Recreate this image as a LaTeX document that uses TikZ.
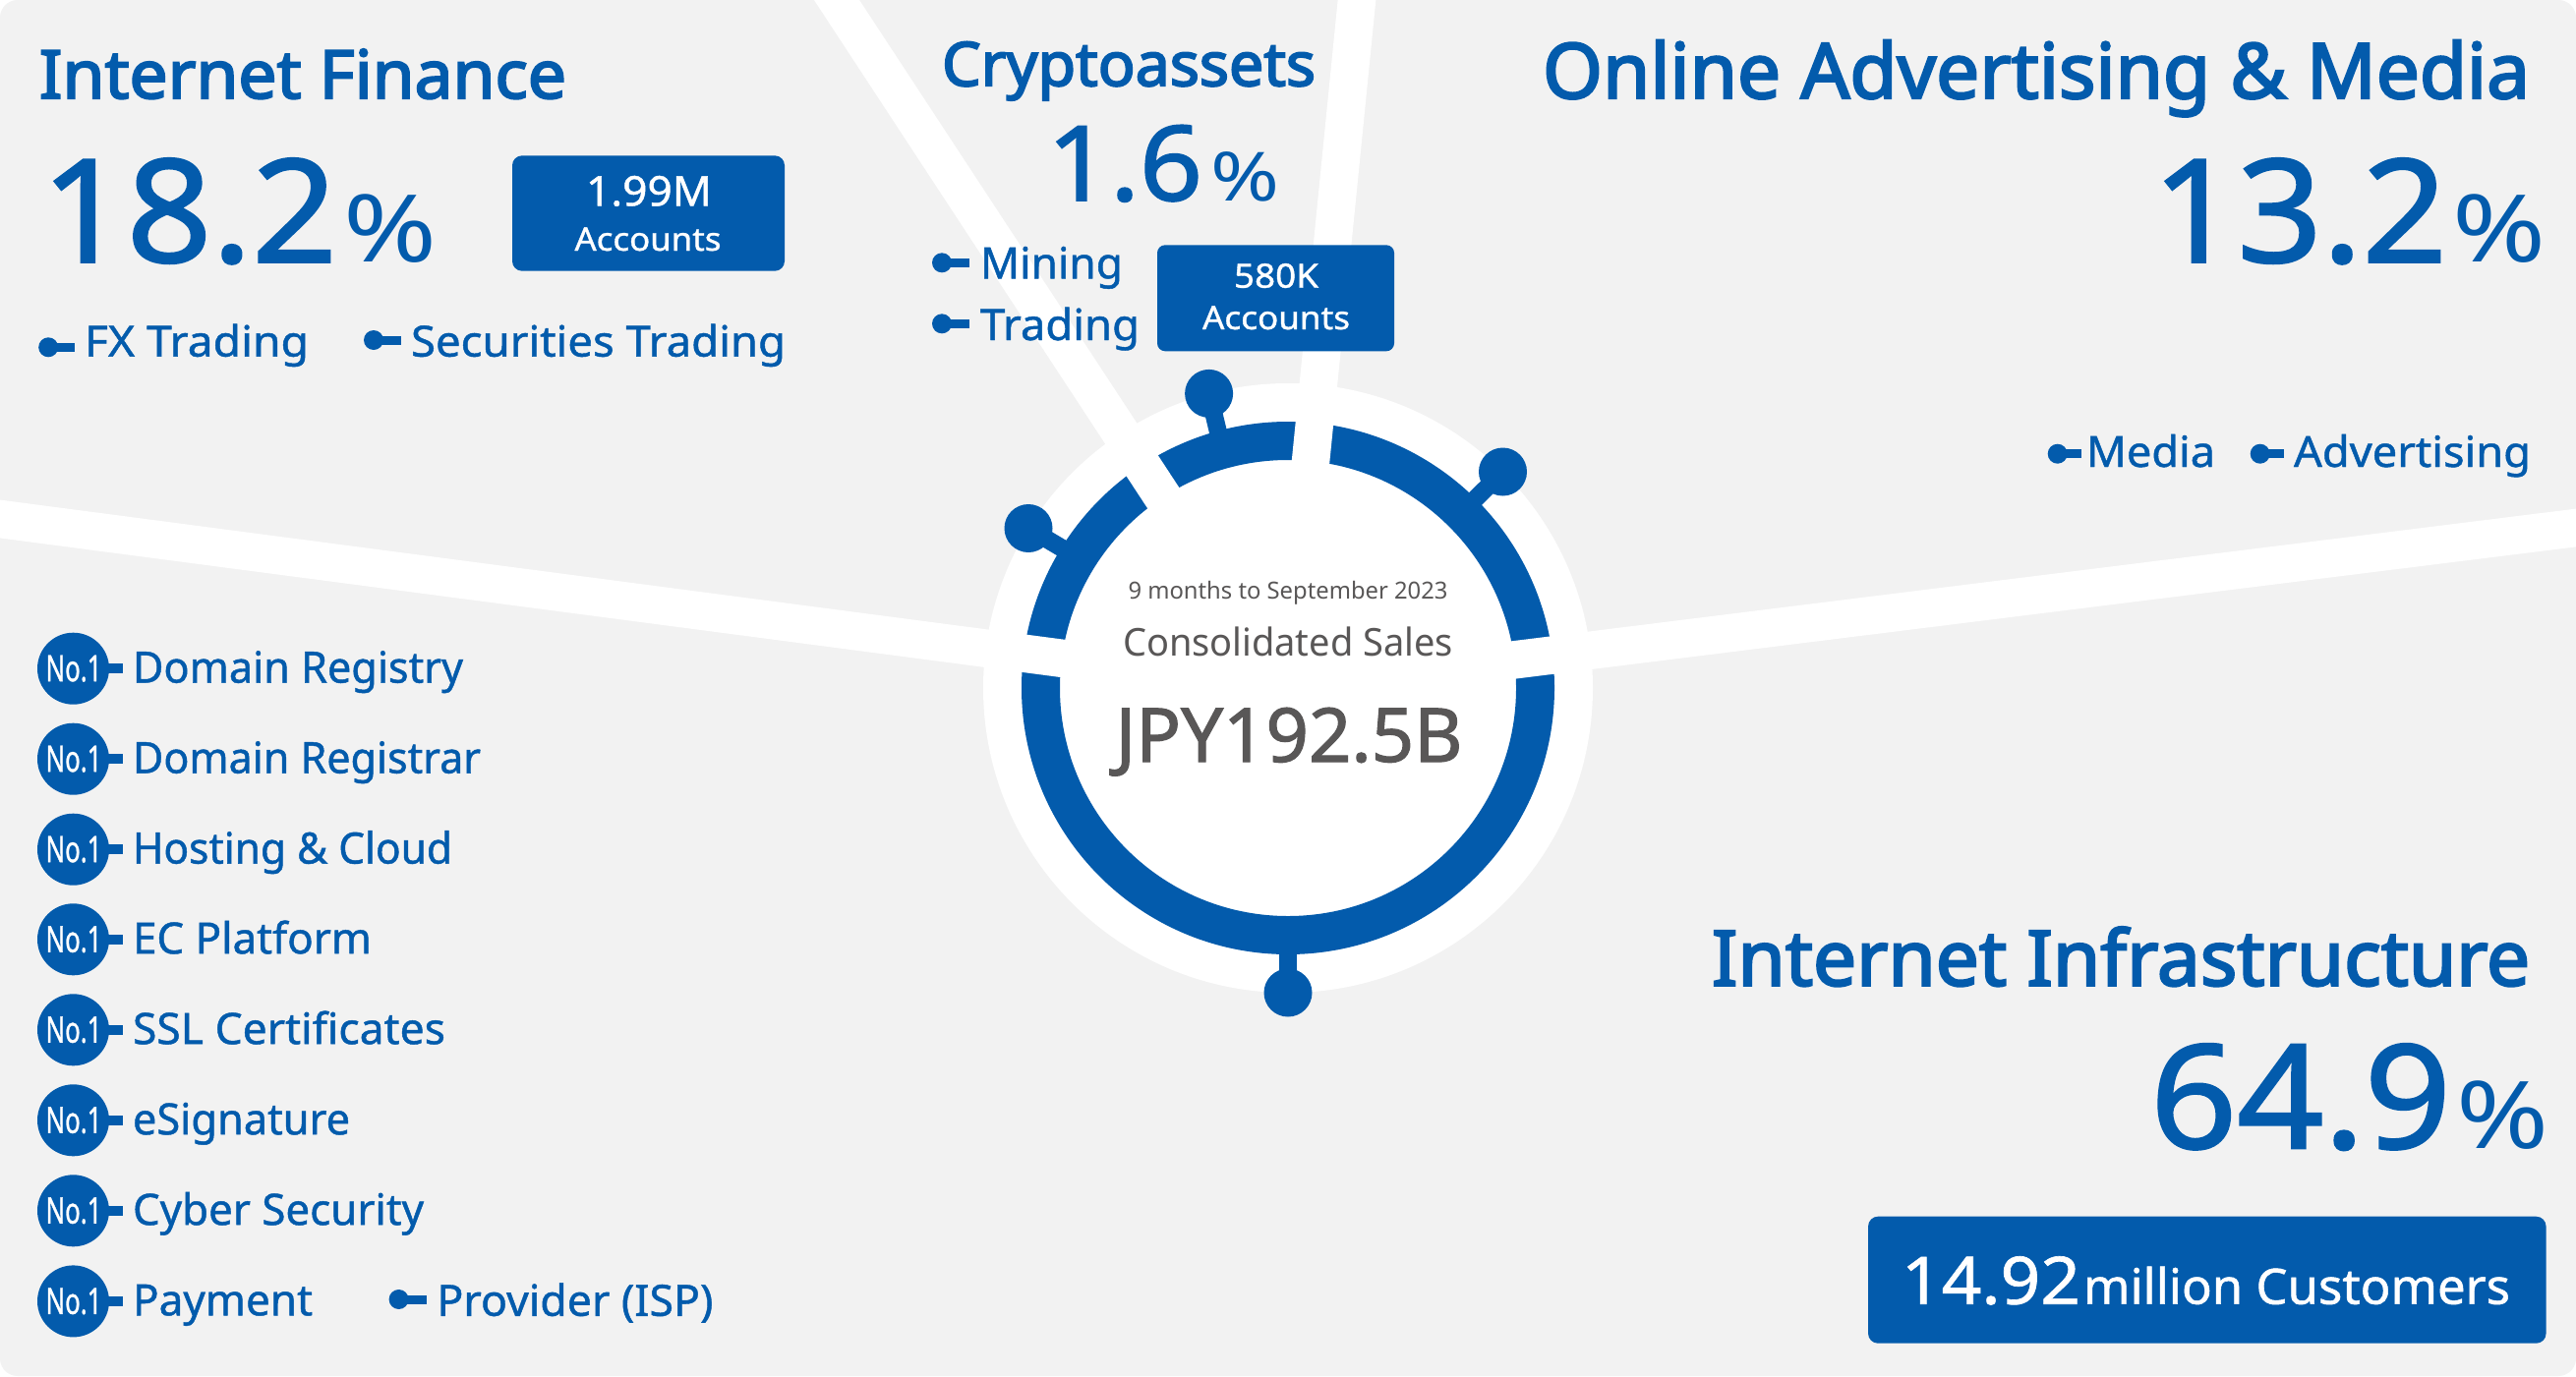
\documentclass[tikz,border=0pt]{standalone}
\usepackage{fontspec}
\usepackage{graphicx}
\setmainfont[FakeBold=1]{Noto Sans}
\newfontfamily\medf[FakeBold=3]{Noto Sans}
\newfontfamily\digf[FakeBold=1.5]{Noto Sans}
\newfontfamily\regf{Noto Sans}
\definecolor{gmoblue}{HTML}{035BAC}
\definecolor{panelgrey}{HTML}{F2F2F2}
\definecolor{inkgrey}{HTML}{595757}
% text helper: size, target width, text
\newcommand{\fitT}[3]{\fontsize{#1pt}{#1pt}\selectfont\resizebox{#2pt}{\height}{#3}}
\tikzset{
  tx/.style={inner sep=0pt,outer sep=0pt,text=gmoblue,anchor=base west},
  txr/.style={tx,anchor=base east},
  wtx/.style={tx,text=white,anchor=base},
  gtx/.style={tx,text=inkgrey,anchor=base},
  band/.style={draw=white,line width=38.5pt,shorten <=-60pt},
  knobdot/.style={circle,fill=gmoblue,inner sep=0pt,outer sep=0pt,minimum size=49pt},
  stemline/.style={draw=gmoblue,line width=18pt},
  dot/.style={circle,fill=gmoblue,inner sep=0pt,outer sep=0pt,minimum size=20pt},
  tick/.style={draw=gmoblue,line width=9pt},
  badge/.style={circle,fill=gmoblue,inner sep=0pt,outer sep=0pt,minimum size=73pt},
  bluebox/.style={fill=gmoblue,rounded corners=10pt,inner sep=0pt,outer sep=0pt}
}
\begin{document}
\begin{tikzpicture}[x=1pt,y=-1pt]
\useasboundingbox (0,0) rectangle (2620,1400);
\fill[white] (0,0) rectangle (2620,1400);
\fill[panelgrey,rounded corners=18pt] (0,0) rectangle (2620,1400);
% ring base
\fill[white] (1310,700) circle [radius=310pt];
\draw[gmoblue,line width=39pt] (1310,700) circle [radius=251.5pt];
% spokes
\coordinate (hub) at (1310,700);
\coordinate (sl) at (0,528);
\coordinate (sr) at (2620,537);
\coordinate (stl) at (851,0);
\coordinate (str) at (1380,0);
\draw[band] (sl) -- (hub);
\draw[band] (sr) -- (hub);
\draw[band] (stl) -- (hub);
\draw[band] (str) -- (hub);
% knobs
\node[knobdot] (ka) at (1046,537.5) {};
\coordinate (kae) at (1084,560);
\draw[stemline] (ka.center) -- (kae);
\node[knobdot] (kb) at (1229.6,400.4) {};
\coordinate (kbe) at (1240,444);
\draw[stemline] (kb.center) -- (kbe);
\node[knobdot] (kc) at (1528.5,480) {};
\coordinate (kce) at (1498,510);
\draw[stemline] (kc.center) -- (kce);
\node[knobdot] (kd) at (1310,1010) {};
\coordinate (kde) at (1310,965);
\draw[stemline] (kd.center) -- (kde);
% centre text
\node[gtx] (period) at (1310,609.8) {\regf\fitT{24}{325}{9 months to September 2023}};
\node[gtx] (sales) at (1310,667) {\regf\fitT{39}{336}{Consolidated Sales}};
\node[gtx] (total) at (1311,775) {\digf\fitT{76}{353}{JPY192.5B}};
% Internet Finance
\node[tx] (ifT) at (40,100) {\medf\fitT{68}{536}{Internet Finance}};
\node[tx] (ifN) at (42,266.7) {\digf\fitT{146}{301}{18.2}};
\node[tx] (ifP) at (349,266.7) {\regf\fitT{95}{95}{\%}};
\node[bluebox,minimum width=277pt,minimum height=117.4pt] (ifB) at (659.5,217) {};
\node[wtx] (ifB1) at (660,209.3) {\fitT{42}{128}{1.99M}};
\node[wtx] (ifB2) at (659,255) {\fitT{33}{149}{Accounts}};
\node[dot] (d1) at (49.2,353.3) {};
\coordinate (d1e) at (75.8,353.3);
\draw[tick] (d1.center) -- (d1e);
\node[tx] (t1) at (86,362.7) {\fitT{43.5}{228}{FX Trading}};
\node[dot] (d2) at (380,346) {};
\coordinate (d2e) at (408,346);
\draw[tick] (d2.center) -- (d2e);
\node[tx] (t2) at (418,362.7) {\fitT{43.5}{381}{Securities Trading}};
% Cryptoassets
\node[tx] (cT) at (958,87.3) {\medf\fitT{62}{380}{Cryptoassets}};
\node[tx] (cN) at (1065,204) {\digf\fitT{106}{158}{1.6}};
\node[tx] (cP) at (1231.5,204) {\regf\fitT{69}{70}{\%}};
\node[dot] (d3) at (958,267.3) {};
\coordinate (d3e) at (986.4,267.3);
\draw[tick] (d3.center) -- (d3e);
\node[tx] (t3) at (997,283.3) {\fitT{44}{145}{Mining}};
\node[dot] (d4) at (958,329.3) {};
\coordinate (d4e) at (986.4,329.3);
\draw[tick] (d4.center) -- (d4e);
\node[tx] (t4) at (997,346) {\fitT{44}{162}{Trading}};
\node[bluebox,rounded corners=8pt,minimum width=241pt,minimum height=108pt] (cB) at (1297.5,303.3) {};
\node[wtx] (cB1) at (1298,292.7) {\fitT{34}{86}{580K}};
\node[wtx] (cB2) at (1298,335) {\fitT{33}{150}{Accounts}};
% Online Advertising & Media
\node[txr] (oT) at (2573,100) {\medf\fitT{78}{1004}{Online Advertising \& Media}};
\node[tx] (oN) at (2189,266.7) {\digf\fitT{146}{300}{13.2}};
\node[tx] (oP) at (2494,266.7) {\regf\fitT{95}{95}{\%}};
\node[dot] (d5) at (2092.7,461.7) {};
\coordinate (d5e) at (2116.5,461.7);
\draw[tick] (d5.center) -- (d5e);
\node[tx] (t5) at (2122,475) {\fitT{43.5}{131}{Media}};
\node[dot] (d6) at (2298.7,461.7) {};
\coordinate (d6e) at (2323,461.7);
\draw[tick] (d6.center) -- (d6e);
\node[tx] (t6) at (2333,475) {\fitT{43.5}{241}{Advertising}};
% Internet Infrastructure
\node[txr] (iT) at (2573,1002.7) {\medf\fitT{78}{832}{Internet Infrastructure}};
\node[tx] (iN) at (2187,1168.3) {\digf\fitT{147}{306}{64.9}};
\node[tx] (iP) at (2498,1168.3) {\regf\fitT{95}{94}{\%}};
\node[bluebox,minimum width=689.5pt,minimum height=129pt] (iB) at (2244.8,1302.2) {};
\node[wtx,anchor=base west] (iB1) at (1934,1326.7) {\fitT{67}{182}{14.92}};
\node[wtx,anchor=base east] (iB2) at (2553,1326.7) {\fitT{50}{434}{million Customers}};
% No.1 list
\foreach \k/\yy/\wid/\lbl in {1/680.2/336/Domain Registry,2/772.2/354/Domain Registrar,3/864.2/325/Hosting \& Cloud,4/955.8/243/EC Platform,5/1047.8/318/SSL Certificates,6/1139.8/221/eSignature,7/1231.8/296/Cyber Security,8/1323.9/183/Payment}{
  \node[badge] (b\k) at (74.5,\yy) {};
  \coordinate (be\k) at (125,\yy);
  \draw[tick,line width=10pt] (b\k.center) -- (be\k);
  \node[wtx,anchor=center] (bt\k) at (75,\yy) {\fitT{37}{57}{No.1}};
  \node[tx] (bl\k) at (135,\yy+14.4) {\fitT{44}{\wid}{\lbl}};
}
\node[dot] (d7) at (405.6,1322) {};
\coordinate (d7e) at (433.7,1322);
\draw[tick] (d7.center) -- (d7e);
\node[tx] (t7) at (444.4,1338.8) {\fitT{44}{281}{Provider (ISP)}};
\end{tikzpicture}
\end{document}
